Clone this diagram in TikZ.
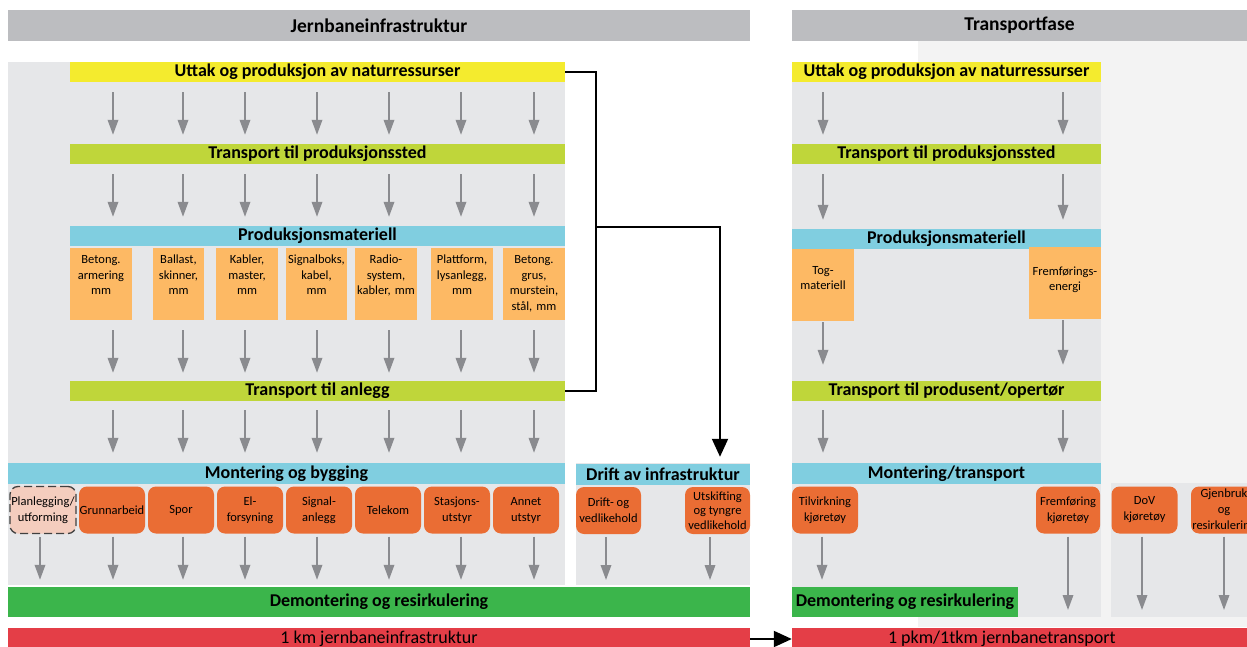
\documentclass[tikz,border=0pt]{standalone}
\usepackage{fontspec}
\setmainfont{Carlito}
\usetikzlibrary{arrows.meta}
\definecolor{hdgray}{HTML}{BCBDC0}
\definecolor{panel}{HTML}{E6E7E9}
\definecolor{lightbg}{HTML}{F3F3F3}
\definecolor{natyel}{HTML}{F4EB2E}
\definecolor{lime}{HTML}{BFD63A}
\definecolor{sky}{HTML}{80CEE0}
\definecolor{matorg}{HTML}{FDB964}
\definecolor{actorg}{HTML}{EA6D34}
\definecolor{planpink}{HTML}{F4CDBE}
\definecolor{dgreen}{HTML}{3BB54B}
\definecolor{dred}{HTML}{E43E47}
\definecolor{arrgray}{HTML}{8A8B8F}
\tikzset{
  hd/.style={fill=hdgray, minimum height=31pt, inner sep=0pt, font=\bfseries\fontsize{19.5}{19.5}\selectfont},
  br/.style={minimum height=20pt, inner sep=0pt, font=\bfseries\fontsize{18}{18}\selectfont},
  mb/.style={fill=matorg, inner sep=0pt, anchor=north, align=center, text height=15.5pt,
             text depth=56.5pt, font=\fontsize{12.5}{15.5}\selectfont},
  ab/.style={fill=actorg, rounded corners=8pt, minimum height=47pt, minimum width=66pt,
             inner sep=0pt, align=center, font=\fontsize{12.5}{16}\selectfont},
  rb/.style={fill=dred, minimum height=22pt, inner sep=0pt, font=\fontsize{18}{18}\selectfont},
  ga/.style={draw=arrgray, line width=1.8pt, -{Triangle[length=15pt, width=10.5pt]}},  % grey flow arrow
  bl/.style={draw=black, line width=2pt},                                            % black connector
  ba/.style={draw=black, line width=2pt, -{Triangle[length=18pt, width=16pt]}},       % black arrow
}
\begin{document}
\begin{tikzpicture}[x=1pt, y=-1pt]
  \useasboundingbox (0,0) rectangle (1247,647);
  \clip (0,0) rectangle (1247,647);
  % panels
  \fill[lightbg] (918,41) rectangle (1247,627);
  \fill[panel] (8,62) rectangle (565,585);
  \fill[panel] (576,463) rectangle (750,585);
  \fill[panel] (792,62) rectangle (1101,617);
  \fill[panel] (1111,483) rectangle (1247,617);

  \node[hd, minimum width=742pt] (hl) at (379,25.5) {Jernbaneinfrastruktur};
  \node[hd, minimum width=455pt] (hr) at (1019.5,25.5) {Transportfase};

  % jernbaneinfrastruktur
  \node[br, fill=natyel, minimum width=495pt] (lu) at (317.5,72)  {Uttak og produksjon av naturressurser};
  \node[br, fill=lime, minimum width=495pt]   (lt) at (317.5,154) {Transport til produksjonssted};
  \node[br, fill=sky, minimum width=495pt]    (lp) at (317.5,236) {Produksjonsmateriell};
  \node[br, fill=lime, minimum width=495pt]   (la) at (317.5,391) {Transport til anlegg};
  \node[br, fill=sky, minimum width=557pt, minimum height=21pt] (lm) at (286.5,473.5) {Montering og bygging};
  \node[br, fill=dgreen, minimum width=742pt, minimum height=30pt] (ld) at (379,602) {Demontering og resirkulering};
  \node[rb, minimum width=742pt] (lk) at (379,639) {1 km jernbaneinfrastruktur};

  \foreach \x in {113,183,245,317,389,461,534} {
    \draw[ga, shorten <=10pt, shorten >=9pt] (lu.south -| \x,0) -- (lt.north -| \x,0);
    \draw[ga, shorten <=10pt, shorten >=9pt] (lt.south -| \x,0) -- (lp.north -| \x,0);
    \draw[ga, shorten <=9pt, shorten >=10pt] (la.south -| \x,0) -- (lm.north -| \x,0);
  }

  \foreach \n/\x/\w/\ax/\t in {m1/101/62/113/{Betong.\\armering\\mm}, m2/178.5/51/183/{Ballast,\\skinner,\\mm},
      m3/247/62/245/{Kabler,\\master,\\mm}, m4/316.5/61/317/{Signalboks,\\kabel,\\mm},
      m5/386/62/389/{Radio-\\system,\\kabler, mm}, m6/462/62/461/{Plattform,\\lysanlegg,\\mm},
      m7/534/62/534/{Betong.\\grus,\\murstein,\\stål, mm}} {
    \node[mb, text width=\w pt] (\n) at (\x,248) {\t};
    \draw[ga, shorten <=10pt, shorten >=8pt] (\n.south -| \ax,0) -- (la.north -| \ax,0);
  }

  \node[ab, fill=planpink, draw=black!75, line width=1.3pt, dash pattern=on 8pt off 4pt] (a1) at (43,510) {Planlegging/\\utforming};
  \draw[ga, shorten <=3pt, shorten >=7pt] (a1.south -| 40,0) -- (ld.north -| 40,0);
  \foreach \n/\x/\ax/\t in {a2/112/113/Grunnarbeid, a3/181/183/Spor, a4/250/245/{El-\\forsyning},
      a5/319/317/{Signal-\\anlegg}, a6/388/389/Telekom, a7/457/461/{Stasjons-\\utstyr}, a8/526/534/{Annet\\utstyr}} {
    \node[ab] (\n) at (\x,510) {\t};
    \draw[ga, shorten <=3pt, shorten >=7pt] (\n.south -| \ax,0) -- (ld.north -| \ax,0);
  }

  % drift av infrastruktur
  \node[br, fill=sky, minimum width=174pt, minimum height=21pt] (db) at (663,474.5) {Drift av infrastruktur};
  \node[ab, minimum width=65pt] (d1) at (608.5,510.5) {Drift- og\\vedlikehold};
  \node[ab, minimum width=65pt, font=\fontsize{12.5}{14.5}\selectfont] (d2) at (717.5,510.5) {Utskifting\\og tyngre\\vedlikehold};
  \coordinate (de1) at (606,580);
  \coordinate (de2) at (710,580);
  \draw[ga, shorten <=3pt] (d1.south -| de1) -- (de1);
  \draw[ga, shorten <=3pt] (d2.south -| de2) -- (de2);

  \coordinate (jn) at (596,227);
  \draw[bl] (lu.east) -- (lu.east -| jn) |- (la.east);
  \draw[ba, shorten >=7pt] (jn) -| (db.north -| 720,0);

  % transportfase
  \node[br, fill=natyel, minimum width=309pt] (ru) at (946.5,72)  {Uttak og produksjon av naturressurser};
  \node[br, fill=lime, minimum width=309pt]   (rt) at (946.5,154) {Transport til produksjonssted};
  \node[br, fill=sky, minimum width=309pt]    (rp) at (946.5,239) {Produksjonsmateriell};
  \node[br, fill=lime, minimum width=309pt]   (ra) at (946.5,391) {Transport til produsent/opertør};
  \node[br, fill=sky, minimum width=309pt, minimum height=21pt] (rm) at (946.5,473.5) {Montering/transport};
  \node[br, fill=dgreen, minimum width=226pt, minimum height=30pt] (rd) at (905,602) {Demontering og resirkulering};
  \node[rb, inner xsep=96pt, text width=263pt, align=flush left] (rk) at (1019.5,639) {1 pkm/1tkm jernbanetransport};

  \node[mb, text width=62pt, text height=25pt, text depth=47pt] (rb1) at (823,249) {Tog-\\materiell};
  \node[mb, text width=72pt, text height=28pt, text depth=44pt] (rb2) at (1065,247) {Fremførings-\\energi};

  \foreach \x in {823,1063} {
    \draw[ga, shorten <=10pt, shorten >=9pt] (ru.south -| \x,0) -- (rt.north -| \x,0);
    \draw[ga, shorten <=10pt, shorten >=9pt] (rt.south -| \x,0) -- (rp.north -| \x,0);
    \draw[ga, shorten <=9pt, shorten >=10pt] (ra.south -| \x,0) -- (rm.north -| \x,0);
  }
  \draw[ga, shorten <=1pt, shorten >=16pt] (rb1.south -| 823,0) -- (ra.north -| 823,0);
  \draw[ga, shorten <=1pt, shorten >=16pt] (rb2.south -| 1063,0) -- (ra.north -| 1063,0);

  \node[ab] (ra1) at (825,510) {Tilvirkning\\kjøretøy};
  \node[ab, minimum width=64pt] (ra2) at (1068,510) {Fremføring\\kjøretøy};
  \node[ab] (ra3) at (1144.5,510) {DoV\\kjøretøy};
  \node[ab] (ra4) at (1224,510) {Gjenbruk\\og\\resirkulering};
  \draw[ga, shorten <=3pt, shorten >=7pt] (ra1.south -| 822,0) -- (rd.north -| 822,0);
  \coordinate (re2) at (1068,610);
  \coordinate (re3) at (1142,610);
  \coordinate (re4) at (1224,610);
  \foreach \n/\e in {ra2/re2, ra3/re3, ra4/re4}
    \draw[ga, shorten <=3pt] (\n.south -| \e) -- (\e);

  \draw[ba] (lk.east) -- (rk.west);
\end{tikzpicture}
\end{document}
